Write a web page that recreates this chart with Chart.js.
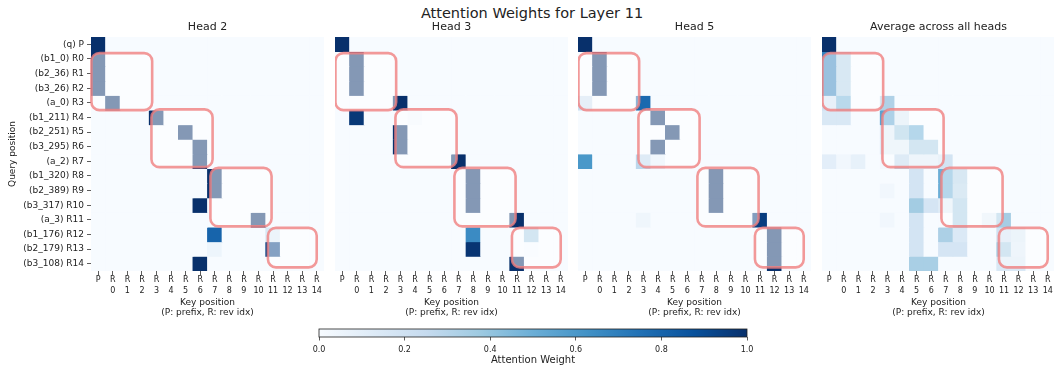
<!DOCTYPE html>
<html lang="en">
<head>
  <meta charset="UTF-8">
  <title>Attention Weights for Layer 11</title>
  <script src="https://cdn.jsdelivr.net/npm/chart.js"></script>
  <style>
    body {
      margin: 0;
      background: #fff;
      font-family: 'DejaVu Sans', sans-serif;
    }
    #fig {
      position: relative;
      width: 1054px;
      height: 366px;
      overflow: hidden;
    }
    #fig canvas {
      position: absolute;
    }
    .suptitle {
      position: absolute;
      left: 0;
      width: 1064px;
      top: 5px;
      text-align: center;
      font-size: 14.5px;
      line-height: 17px;
      color: #222;
    }
  </style>
</head>
<body>

<div id="fig">
  <div class="suptitle">Attention Weights for Layer 11</div>
  <canvas id="h2" width="324" height="320" style="left:0;top:0"></canvas>
  <canvas id="h3" width="233" height="320" style="left:335px;top:0"></canvas>
  <canvas id="h5" width="233" height="320" style="left:578px;top:0"></canvas>
  <canvas id="avg" width="233" height="320" style="left:822px;top:0"></canvas>
  <canvas id="cbar" width="460" height="46" style="left:300px;top:320px"></canvas>
</div>

<script>
// query rows (top to bottom) and key columns (left to right)
const rowLabels = ['(q) P', '(b1_0) R0', '(b2_36) R1', '(b3_26) R2', '(a_0) R3',
  '(b1_211) R4', '(b2_251) R5', '(b3_295) R6', '(a_2) R7', '(b1_320) R8',
  '(b2_389) R9', '(b3_317) R10', '(a_3) R11', '(b1_176) R12', '(b2_179) R13', '(b3_108) R14'];
const colLabels = ['P', ['R', '0'], ['R', '1'], ['R', '2'], ['R', '3'], ['R', '4'], ['R', '5'],
  ['R', '6'], ['R', '7'], ['R', '8'], ['R', '9'], ['R', '10'], ['R', '11'], ['R', '12'],
  ['R', '13'], ['R', '14']];

const head2 = [
  [1, 0, 0, 0, 0, 0, 0, 0, 0, 0, 0, 0, 0, 0, 0, 0],
  [1, 0, 0, 0, 0, 0, 0, 0, 0, 0, 0, 0, 0, 0, 0, 0],
  [1, 0, 0, 0, 0, 0, 0, 0, 0, 0, 0, 0, 0, 0, 0, 0],
  [1, 0, 0, 0, 0, 0, 0, 0, 0, 0, 0, 0, 0, 0, 0, 0],
  [0, 1, 0, 0, 0, 0, 0, 0, 0, 0, 0, 0, 0, 0, 0, 0],
  [0, 0, 0, 0, 1, 0, 0, 0, 0, 0, 0, 0, 0, 0, 0, 0],
  [0, 0, 0, 0, 0, 0, 1, 0, 0, 0, 0, 0, 0, 0, 0, 0],
  [0, 0, 0, 0, 0, 0, 0, 1, 0, 0, 0, 0, 0, 0, 0, 0],
  [0, 0, 0, 0, 0, 0, 0, 1, 0, 0, 0, 0, 0, 0, 0, 0],
  [0, 0, 0, 0, 0, 0, 0, 0, 1, 0, 0, 0, 0, 0, 0, 0],
  [0, 0, 0, 0, 0, 0, 0, 0, 1, 0, 0, 0, 0, 0, 0, 0],
  [0, 0, 0, 0, 0, 0, 0, 1, 0, 0, 0, 0, 0, 0, 0, 0],
  [0, 0, 0, 0, 0, 0, 0, 0, 0, 0, 0, 1, 0, 0, 0, 0],
  [0, 0, 0, 0, 0, 0, 0, 0, .8, 0, 0, 0, .15, 0, 0, 0],
  [0, 0, 0, 0, 0, 0, 0, 0, .05, 0, 0, 0, .93, 0, 0, 0],
  [0, 0, 0, 0, 0, 0, 0, 1, 0, 0, 0, 0, 0, 0, 0, 0]
];

const head3 = [
  [1, 0, 0, 0, 0, 0, 0, 0, 0, 0, 0, 0, 0, 0, 0, 0],
  [0, 1, 0, 0, 0, 0, 0, 0, 0, 0, 0, 0, 0, 0, 0, 0],
  [0, 1, 0, 0, 0, 0, 0, 0, 0, 0, 0, 0, 0, 0, 0, 0],
  [0, 1, 0, 0, 0, 0, 0, 0, 0, 0, 0, 0, 0, 0, 0, 0],
  [0, 0, 0, 0, 1, 0, 0, 0, 0, 0, 0, 0, 0, 0, 0, 0],
  [0, .97, 0, 0, 0, .03, 0, 0, 0, 0, 0, 0, 0, 0, 0, 0],
  [0, 0, 0, 0, 1, 0, 0, 0, 0, 0, 0, 0, 0, 0, 0, 0],
  [0, 0, 0, 0, 1, 0, 0, 0, 0, 0, 0, 0, 0, 0, 0, 0],
  [0, 0, 0, 0, 0, 0, 0, 0, 1, 0, 0, 0, 0, 0, 0, 0],
  [0, 0, 0, 0, 0, 0, 0, 0, 0, 1, 0, 0, 0, 0, 0, 0],
  [0, 0, 0, 0, 0, 0, 0, 0, 0, 1, 0, 0, 0, 0, 0, 0],
  [0, 0, 0, 0, 0, 0, 0, 0, 0, 1, 0, 0, 0, 0, 0, 0],
  [0, 0, 0, 0, 0, 0, 0, 0, 0, 0, 0, 0, 1, 0, 0, 0],
  [0, 0, 0, 0, 0, 0, 0, 0, 0, .65, 0, 0, 0, .35, 0, 0],
  [0, 0, 0, 0, 0, 0, 0, 0, 0, .98, 0, 0, 0, .02, 0, 0],
  [0, 0, 0, 0, 0, 0, 0, 0, 0, 0, 0, 0, 1, 0, 0, 0]
];

const head5 = [
  [1, 0, 0, 0, 0, 0, 0, 0, 0, 0, 0, 0, 0, 0, 0, 0],
  [0, 1, 0, 0, 0, 0, 0, 0, 0, 0, 0, 0, 0, 0, 0, 0],
  [0, 1, 0, 0, 0, 0, 0, 0, 0, 0, 0, 0, 0, 0, 0, 0],
  [0, 1, 0, 0, 0, 0, 0, 0, 0, 0, 0, 0, 0, 0, 0, 0],
  [.22, 0, 0, 0, .78, 0, 0, 0, 0, 0, 0, 0, 0, 0, 0, 0],
  [0, 0, 0, 0, 0, 1, 0, 0, 0, 0, 0, 0, 0, 0, 0, 0],
  [0, 0, 0, 0, 0, 0, 1, 0, 0, 0, 0, 0, 0, 0, 0, 0],
  [0, 0, 0, 0, 0, 1, 0, 0, 0, 0, 0, 0, 0, 0, 0, 0],
  [.6, 0, 0, 0, .28, .1, 0, 0, 0, 0, 0, 0, 0, 0, 0, 0],
  [0, 0, 0, 0, 0, 0, 0, 0, 0, 1, 0, 0, 0, 0, 0, 0],
  [0, 0, 0, 0, 0, 0, 0, 0, 0, 1, 0, 0, 0, 0, 0, 0],
  [0, 0, 0, 0, 0, 0, 0, 0, 0, 1, 0, 0, 0, 0, 0, 0],
  [0, 0, 0, 0, .04, 0, 0, 0, 0, 0, 0, 0, .95, 0, 0, 0],
  [0, 0, 0, 0, 0, 0, 0, 0, 0, 0, 0, 0, 0, 1, 0, 0],
  [0, 0, 0, 0, 0, 0, 0, 0, 0, 0, 0, 0, 0, 1, 0, 0],
  [0, 0, 0, 0, 0, 0, 0, 0, 0, 0, 0, 0, 0, 1, 0, 0]
];

const avgHeads = [
  [1, 0, 0, 0, 0, 0, 0, 0, 0, 0, 0, 0, 0, 0, 0, 0],
  [.68, .32, 0, 0, 0, 0, 0, 0, 0, 0, 0, 0, 0, 0, 0, 0],
  [.68, .32, 0, 0, 0, 0, 0, 0, 0, 0, 0, 0, 0, 0, 0, 0],
  [.68, .32, 0, 0, 0, 0, 0, 0, 0, 0, 0, 0, 0, 0, 0, 0],
  [.2, .48, 0, 0, .32, 0, 0, 0, 0, 0, 0, 0, 0, 0, 0, 0],
  [.15, .15, 0, 0, .55, .15, 0, 0, 0, 0, 0, 0, 0, 0, 0, 0],
  [0, 0, 0, 0, .13, .37, .5, 0, 0, 0, 0, 0, 0, 0, 0, 0],
  [0, 0, 0, 0, .12, .12, .35, .35, 0, 0, 0, 0, 0, 0, 0, 0],
  [.1, .03, .08, 0, .02, .28, .13, .13, .18, 0, 0, 0, 0, 0, 0, 0],
  [0, 0, 0, 0, 0, 0, .18, 0, .5, .32, 0, 0, 0, 0, 0, 0],
  [0, 0, 0, 0, .03, 0, .18, 0, .5, .3, 0, 0, 0, 0, 0, 0],
  [0, 0, 0, 0, 0, 0, .36, .17, .12, .35, 0, 0, 0, 0, 0, 0],
  [0, 0, 0, 0, .03, 0, .18, 0, 0, .35, 0, .1, .35, 0, 0, 0],
  [0, 0, 0, 0, 0, 0, .18, 0, .33, .14, 0, 0, .2, .15, 0, 0],
  [0, 0, 0, 0, 0, 0, .18, 0, .17, .17, 0, 0, .35, .13, 0, 0],
  [0, 0, 0, 0, 0, 0, .34, .34, 0, 0, 0, 0, .15, .15, 0, 0]
];

// group outlines, in cell units: [x0, y0, x1, y1]
const boxes = [[0.03, 1.1, 4.2, 5.0], [4.15, 4.95, 8.35, 8.9], [8.2, 8.95, 12.4, 12.95], [12.15, 13.05, 15.5, 15.75]];

// matplotlib "Blues"
const bluesStops = ['#f7fbff', '#deebf7', '#c6dbef', '#9ecae1', '#6baed6', '#4292c6', '#2171b5', '#08519c', '#08306b'];

function hexRgb(h) {
  return [1, 3, 5].map(i => parseInt(h.substr(i, 2), 16));
}

function blues(v) {
  const t = Math.max(0, Math.min(1, v)) * (bluesStops.length - 1);
  const i = Math.min(Math.floor(t), bluesStops.length - 2);
  const f = t - i;
  const a = hexRgb(bluesStops[i]), b = hexRgb(bluesStops[i + 1]);
  const c = a.map((x, k) => Math.round(x + (b[k] - x) * f));
  return `rgb(${c[0]},${c[1]},${c[2]})`;
}

Chart.defaults.font.family = "'DejaVu Sans', sans-serif";
Chart.defaults.color = '#222';

function roundRect(ctx, x, y, w, h, r) {
  ctx.beginPath();
  ctx.moveTo(x + r, y);
  ctx.arcTo(x + w, y, x + w, y + h, r);
  ctx.arcTo(x + w, y + h, x, y + h, r);
  ctx.arcTo(x, y + h, x, y, r);
  ctx.arcTo(x, y, x + w, y, r);
  ctx.closePath();
}

const boxPlugin = {
  id: 'groupBoxes',
  afterDatasetsDraw(chart) {
    const {ctx, scales: {x, y}} = chart;
    ctx.save();
    boxes.forEach(([x0, y0, x1, y1]) => {
      const l = x.getPixelForValue(x0 - 0.5), r = x.getPixelForValue(x1 - 0.5);
      const t = y.getPixelForValue(y0), b = y.getPixelForValue(y1);
      roundRect(ctx, l, t, r - l, b - t, 8);
      ctx.fillStyle = 'rgba(255,255,255,0.5)';
      ctx.fill();
      ctx.strokeStyle = 'rgba(240,128,128,0.8)';
      ctx.lineWidth = 2.6;
      ctx.stroke();
    });
    ctx.restore();
  }
};

function heatmap(id, title, matrix, showY) {
  const datasets = matrix.map((row, r) => ({
    data: row.map(() => [r, r + 1]),
    backgroundColor: row.map(blues),
    borderWidth: 0,
    grouped: false,
    barPercentage: 1,
    categoryPercentage: 1,
    inflateAmount: 0.4
  }));

  new Chart(document.getElementById(id), {
    type: 'bar',
    data: { labels: colLabels, datasets: datasets },
    options: {
      responsive: false,
      animation: false,
      events: [],
      layout: { padding: 0 },
      plugins: {
        legend: { display: false },
        tooltip: { enabled: false },
        title: {
          display: true,
          text: title,
          fullSize: false,
          font: { size: 11, weight: 'normal' },
          padding: { top: 21, bottom: 2.8 },
          color: '#222'
        }
      },
      scales: {
        x: {
          offset: true,
          ticks: { font: { size: 8, lineHeight: 1.35 }, padding: 0, maxRotation: 0, autoSkip: false, color: '#222' },
          grid: { offset: false, drawOnChartArea: false, tickLength: 4, color: '#333', lineWidth: 0.8 },
          border: { display: false },
          title: {
            display: true,
            text: ['Key position', '(P: prefix, R: rev idx)'],
            font: { size: 9, lineHeight: 1.1 },
            padding: { top: 0, bottom: 2 },
            color: '#222'
          },
          afterFit: s => { s.height = 49; s.paddingLeft = 0; s.paddingRight = 0; }
        },
        y: {
          display: showY,
          min: 0,
          max: 16,
          reverse: true,
          afterBuildTicks: s => { s.ticks = rowLabels.map((_, i) => ({ value: i + 0.5 })); },
          ticks: { callback: (v, i) => rowLabels[i], font: { size: 9 }, padding: 3, autoSkip: false, color: '#222' },
          grid: { drawOnChartArea: false, tickLength: 4, color: '#333', lineWidth: 0.8 },
          border: { display: false },
          title: {
            display: true,
            text: 'Query position',
            font: { size: 9 },
            padding: { top: 7.6, bottom: 0 },
            color: '#222'
          },
          afterFit: s => {
            s.width = showY ? 91 : 0;
            s.paddingTop = 0;
            s.paddingBottom = 0;
          }
        }
      }
    },
    plugins: [boxPlugin]
  });
}

heatmap('h2', 'Head 2', head2, true);
heatmap('h3', 'Head 3', head3, false);
heatmap('h5', 'Head 5', head5, false);
heatmap('avg', 'Average across all heads', avgHeads, false);

// colorbar
const gradientPlugin = {
  id: 'cbarGradient',
  beforeDatasetsDraw(chart) {
    const {ctx, chartArea: a, scales: {x}} = chart;
    const x0 = x.getPixelForValue(0), x1 = x.getPixelForValue(1);
    const g = ctx.createLinearGradient(x0, 0, x1, 0);
    bluesStops.forEach((c, i) => g.addColorStop(i / (bluesStops.length - 1), c));
    ctx.save();
    ctx.fillStyle = g;
    ctx.fillRect(x0, a.top, x1 - x0, a.bottom - a.top);
    ctx.strokeStyle = '#222';
    ctx.lineWidth = 0.8;
    ctx.strokeRect(x0, a.top, x1 - x0, a.bottom - a.top);
    ctx.restore();
  }
};

new Chart(document.getElementById('cbar'), {
  type: 'scatter',
  data: { datasets: [] },
  options: {
    responsive: false,
    animation: false,
    events: [],
    layout: { padding: { left: 19, right: 13, top: 9, bottom: 0 } },
    plugins: { legend: { display: false }, tooltip: { enabled: false } },
    scales: {
      x: {
        type: 'linear',
        min: 0,
        max: 1,
        ticks: { stepSize: 0.2, callback: v => v.toFixed(1), font: { size: 8 }, padding: 4.5, color: '#222' },
        grid: { drawOnChartArea: false, tickLength: 3.5, color: '#333', lineWidth: 0.8 },
        border: { display: false },
        title: { display: true, text: 'Attention Weight', font: { size: 10 }, padding: 0, color: '#222' },
        afterFit: s => { s.height = 29; s.paddingLeft = 0; s.paddingRight = 0; }
      },
      y: { display: false, min: 0, max: 1 }
    }
  },
  plugins: [gradientPlugin]
});
</script>

</body>
</html>
